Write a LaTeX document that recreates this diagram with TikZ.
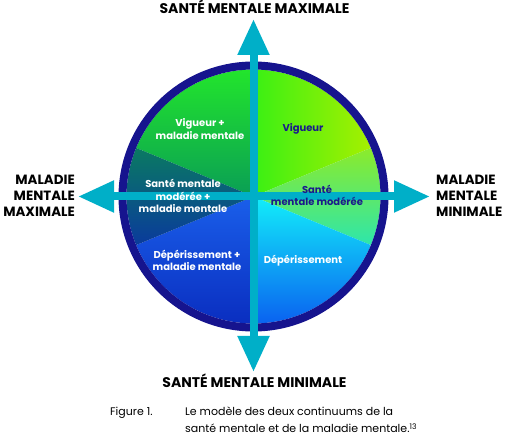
\documentclass[tikz,border=0pt]{standalone}
\usepackage{fontspec}
\setmainfont{Poppins}
\usetikzlibrary{arrows.meta}

\definecolor{ringblue}{HTML}{16148E}
\definecolor{axiscyan}{HTML}{00AFC8}
\definecolor{labelnavy}{HTML}{1A1A8C}
\definecolor{ulTop}{HTML}{22E52C}
\definecolor{ulBot}{HTML}{0A9E55}
\definecolor{urL}{HTML}{3AF014}
\definecolor{urR}{HTML}{A6F000}
\definecolor{rmTop}{HTML}{8CEB2A}
\definecolor{rmBot}{HTML}{2DE6AC}
\definecolor{lrTop}{HTML}{12EEFA}
\definecolor{lrBot}{HTML}{0A62F0}
\definecolor{llTop}{HTML}{1A5FEA}
\definecolor{llBot}{HTML}{0A2EC0}
\definecolor{lmTop}{HTML}{0A7A62}
\definecolor{lmBot}{HTML}{0A3A9C}

\begin{document}
\begin{tikzpicture}[x=1pt,y=1pt,
    axis/.style={axiscyan, line width=8pt,
      {Triangle[width=30pt,length=36pt]}-{Triangle[width=30pt,length=36pt]}},
    zone/.style={font=\bfseries\fontsize{10}{12.5}\selectfont, align=center, inner sep=0pt},
    pole/.style={font=\bfseries\fontsize{14}{16}\selectfont, inner sep=0pt},
    sidepole/.style={font=\bfseries\fontsize{13.4}{16}\selectfont, inner sep=0pt},
    caption/.style={font=\fontsize{11}{17}\selectfont, inner sep=0pt, anchor=base west}]
  \useasboundingbox (0,0) rectangle (507,444);
  \coordinate (c) at (253.5,247.5);

  % sectors of the disc
  \foreach \a/\b/\ca/\cb/\ang in {90/157.5/ulTop/ulBot/0, 22.5/90/urL/urR/90,
      -22.5/22.5/rmTop/rmBot/0, -90/-22.5/lrTop/lrBot/0,
      202.5/270/llTop/llBot/0, 157.5/202.5/lmTop/lmBot/0} {
    \shade[top color=\ca, bottom color=\cb, shading angle=\ang]
      (c) -- ++(\a:127) arc[start angle=\a, end angle=\b, radius=127] -- cycle;
  }
  \draw[ringblue, line width=8pt] (c) circle[radius=131];

  % the two continuums
  \coordinate (santemax) at (253.5,425);
  \coordinate (santemin) at (253.5,72);
  \coordinate (maladiemax) at (78,247.5);
  \coordinate (maladiemin) at (430,247.5);
  \draw[axis] (santemin) -- (santemax);
  \draw[axis] (maladiemax) -- (maladiemin);

  % sector labels
  \node[zone, white] (vigmal) at (200,315) {Vigueur +\\maladie mentale};
  \node[zone, labelnavy] (vig) at (303,315) {Vigueur};
  \node[zone, white] (modmal) at (183,248) {Santé mentale\\modérée +\\maladie mentale};
  \node[zone, labelnavy] (mod) at (317,248.5) {Santé\\mentale modérée};
  \node[zone, white] (depmal) at (197,183.5) {Dépérissement +\\maladie mentale};
  \node[zone, white] (dep) at (303,183) {Dépérissement};

  % pole labels
  \node[pole, anchor=base] (ltop) at (254.5,430) {SANTÉ MENTALE MAXIMALE};
  \node[pole, anchor=base] (lbot) at (254.5,56) {SANTÉ MENTALE MINIMALE};
  \node[sidepole, anchor=east, align=right] (lleft) at (75,248) {MALADIE\\MENTALE\\MAXIMALE};
  \node[sidepole, anchor=west, align=left] (lright) at (436,248) {MALADIE\\MENTALE\\MINIMALE};

  % caption
  \node[caption] (fig) at (110,28) {Figure 1.};
  \node[caption] (cap1) at (185,28) {Le modèle des deux continuums de la};
  \node[caption] (cap2) at (185,11) {santé mentale et de la maladie mentale.\textsuperscript{13}};
\end{tikzpicture}
\end{document}
